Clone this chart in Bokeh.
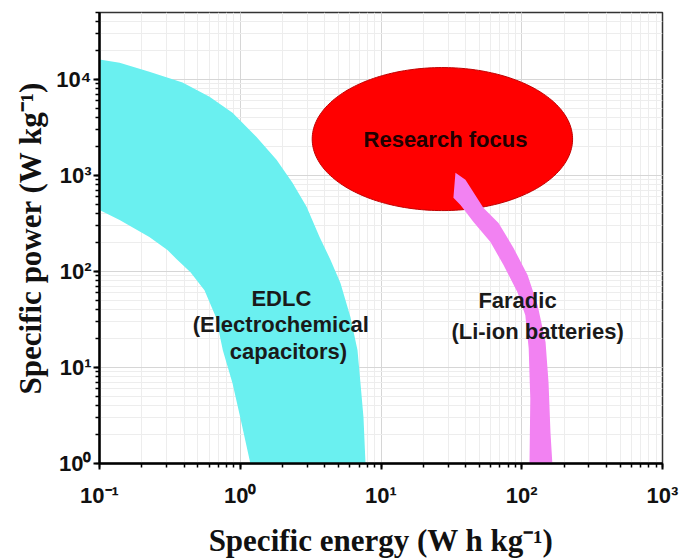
import numpy as np
from bokeh.plotting import figure
from bokeh.models import Range1d, Label, LogTicker
from bokeh.embed import file_html
from bokeh.resources import INLINE

# ---- data -------------------------------------------------------------
# EDLC (electrochemical capacitors): upper/right envelope
edlc_outer_energy = [0.1, 0.139, 0.226, 0.389, 0.605, 0.881, 1.30, 1.81, 2.35, 2.96,
                     3.66, 4.38, 5.15, 6.07, 6.81, 7.15, 7.51, 7.76]
edlc_outer_power = [1.62e4, 1.5e4, 1.21e4, 9300, 6640, 4520, 2540, 1460, 840, 472,
                    229, 132, 76, 33.5, 15.1, 6.85, 3.02, 1]
# EDLC: lower/left envelope
edlc_inner_energy = [0.1, 0.139, 0.226, 0.304, 0.352, 0.443, 0.557, 0.672, 0.752,
                     0.881, 1.0, 1.18]
edlc_inner_power = [439, 345, 229, 168, 135, 98.6, 64, 33.5, 15.1, 6.85, 3.02, 1]

# Faradic (Li-ion batteries) band: left edge top->bottom, right edge bottom->top
faradic_left_energy = [33.8, 32.7, 36.7, 45.4, 59.9, 74.2, 93.2, 106, 112, 115, 113.5]
faradic_left_power = [1069, 586, 495, 329, 203, 117, 61, 35, 15.9, 4.77, 1]
faradic_right_energy = [165, 160, 155, 147.6, 129.5, 110, 87.4, 68.4, 53.5, 39.8]
faradic_right_power = [1, 2.11, 7.0, 18.4, 44.7, 91.9, 176, 321, 460, 903]

# "Research focus" ellipse (centre and half-axes in decades)
focus_energy = 27.3
focus_power = 2400
focus_half_width_dec = 0.925
focus_half_height_dec = 0.745

x_ticks = [0.1, 1, 10, 100, 1000]
x_tick_labels = ["10\u207b\u00b9", "10\u2070", "10\u00b9", "10\u00b2", "10\u00b3"]
y_ticks = [1, 10, 100, 1000, 10000]
y_tick_labels = ["10\u2070", "10\u00b9", "10\u00b2", "10\u00b3", "10\u2074"]

# ---- figure -----------------------------------------------------------
p = figure(width=680, height=560,
           x_axis_type="log", y_axis_type="log",
           x_range=Range1d(0.1, 1000), y_range=Range1d(1, 5e4),
           output_backend="svg", toolbar_location=None,
           min_border_left=99, min_border_right=18,
           min_border_top=12, min_border_bottom=97,
           background_fill_color="white", border_fill_color="white")

p.outline_line_color = "#333333"
p.outline_line_width = 1.5

p.xaxis.ticker = LogTicker(desired_num_ticks=5, num_minor_ticks=10)
p.yaxis.ticker = LogTicker(desired_num_ticks=5, num_minor_ticks=10)
p.xgrid.ticker = p.xaxis[0].ticker
p.ygrid.ticker = p.yaxis[0].ticker

for grid in (p.xgrid, p.ygrid):
    grid.grid_line_color = "#d6d6d6"
    grid.grid_line_width = 1
    grid.minor_grid_line_color = "#ededed"
    grid.minor_grid_line_width = 1

# EDLC region
p.patch(edlc_outer_energy + edlc_inner_energy[::-1],
        edlc_outer_power + edlc_inner_power[::-1],
        fill_color="#6AF0F0", line_color=None)

# research focus ellipse
theta = np.linspace(0, 2 * np.pi, 240)
ell_x = 10 ** (np.log10(focus_energy) + focus_half_width_dec * np.cos(theta))
ell_y = 10 ** (np.log10(focus_power) + focus_half_height_dec * np.sin(theta))
p.patch(ell_x, ell_y, fill_color="#FF0000", line_color="#C00000", line_width=1)

# Faradic band
p.patch(faradic_left_energy + faradic_right_energy,
        faradic_left_power + faradic_right_power,
        fill_color="#F282F2", line_color=None)

# ---- annotations --------------------------------------------------------
def add_text(x, y, txt, size="22px", color="#1a1a1a"):
    p.add_layout(Label(x=x, y=y, text=txt, text_align="center", text_baseline="middle",
                       text_font="Liberation Sans", text_font_style="bold",
                       text_font_size=size, text_color=color))

add_text(28.7, 2360, "Research focus", color="#200000")
add_text(1.96, 52.9, "EDLC")
add_text(1.94, 27.8, "(Electrochemical")
add_text(2.2, 14.8, "capacitors)")
add_text(93.3, 50.4, "Faradic")
add_text(129.5, 23.9, "(Li-ion batteries)")

# ---- axes ---------------------------------------------------------------
p.xaxis.major_label_overrides = {t: l for t, l in zip(x_ticks, x_tick_labels)}
p.yaxis.major_label_overrides = {t: l for t, l in zip(y_ticks, y_tick_labels)}

for ax in (p.xaxis, p.yaxis):
    ax.axis_line_color = "black"
    ax.axis_line_width = 2.5
    ax.major_tick_line_color = "black"
    ax.major_tick_line_width = 2
    ax.major_tick_out = 6
    ax.major_tick_in = 0
    ax.minor_tick_line_color = "black"
    ax.minor_tick_line_width = 1.5
    ax.minor_tick_out = 4
    ax.minor_tick_in = 0
    ax.major_label_text_font = "Liberation Sans"
    ax.major_label_text_font_style = "bold"
    ax.major_label_text_font_size = "22px"
    ax.major_label_text_color = "#111111"
    ax.axis_label_text_font = "Liberation Serif"
    ax.axis_label_text_font_style = "bold"
    ax.axis_label_text_font_size = "31px"
    ax.axis_label_text_color = "#111111"

p.xaxis.axis_label = "Specific energy (W h kg\u207b\u00b9)"
p.yaxis.axis_label = "Specific power (W kg\u207b\u00b9)"
p.xaxis.major_label_standoff = 13
p.yaxis.major_label_standoff = 2
p.xaxis.axis_label_standoff = 12
p.yaxis.axis_label_standoff = 5

open("out.html", "w").write(file_html(p, INLINE))
